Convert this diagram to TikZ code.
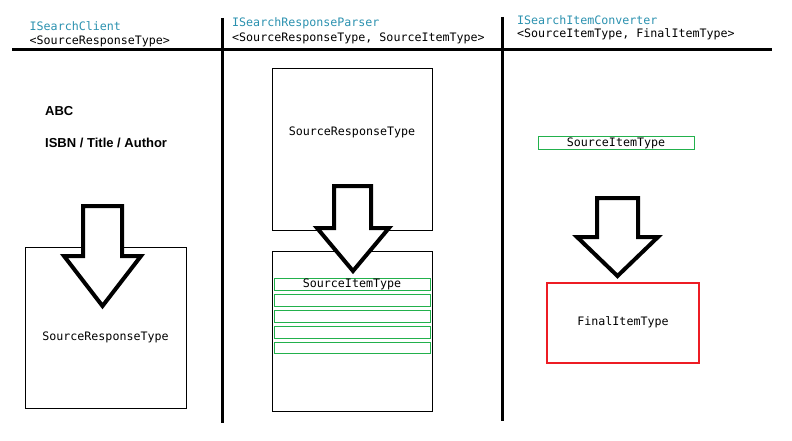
\documentclass[tikz,border=0pt]{standalone}
\usepackage{fontspec}
\setmonofont{DejaVu Sans Mono}
\newfontfamily\labelfont{Liberation Sans}
\definecolor{typeblue}{RGB}{43,145,175}
\definecolor{itemgreen}{RGB}{34,177,76}
\definecolor{finalred}{rgb}{0.93,0.11,0.14}
\tikzset{
  mono/.style={font=\ttfamily\fontsize{11.65}{13}\selectfont, inner sep=0pt},
  hdr/.style={mono, anchor=west},
  hdrtype/.style={hdr, text=typeblue},
  boxstyle/.style={draw=black, line width=1pt},
  itembox/.style={draw=itemgreen, line width=1pt},
  finalbox/.style={draw=finalred, line width=1.1pt},
  divider/.style={line width=3pt},
  bigarrow/.style={draw=black, fill=white, line width=4pt, line join=miter},
  bold/.style={font=\labelfont\bfseries\fontsize{13}{15}\selectfont, inner sep=0pt, anchor=west}
}
\begin{document}
\begin{tikzpicture}[x=1pt,y=-1pt]
\useasboundingbox (0,0) rectangle (792,441);
% dividers
\coordinate (hl) at (12,50);
\coordinate (hr) at (772,50);
\coordinate (v1t) at (222,18);
\coordinate (v1b) at (222,423);
\coordinate (v2t) at (502,17);
\coordinate (v2b) at (502,421);
\draw[divider] (hl) -- (hr);
\draw[divider] (v1t) -- (v1b);
\draw[divider] (v2t) -- (v2b);
% headers
\node[hdrtype] (h1a) at (29.5,26) {ISearchClient};
\node[hdr] (h1b) at (29.5,41) {<SourceResponseType>};
\node[hdrtype] (h2a) at (232,23) {ISearchResponseParser};
\node[hdr] (h2b) at (232,38) {<SourceResponseType, SourceItemType>};
\node[hdrtype] (h3a) at (517,20) {ISearchItemConverter};
\node[hdr] (h3b) at (517,34.5) {<SourceItemType, FinalItemType>};
% column 1
\node[bold] (abc) at (45,111) {ABC};
\node[bold] (isbn) at (45,143) {ISBN / Title / Author};
\draw[boxstyle] (25,247) rectangle (186,408);
\node[mono] (srt1) at (105.5,337) {SourceResponseType};
\draw[bigarrow] (83,206) -- (122,206) -- (122,256) -- (141,256) -- (102.5,306) -- (64,256) -- (83,256) -- cycle;
% column 2
\draw[boxstyle] (272,69) rectangle (432,230);
\node[mono] (srt2) at (352,132) {SourceResponseType};
\draw[boxstyle] (272,251) rectangle (432,411);
\draw[itembox] (274,278) rectangle (430,290);
\draw[itembox] (274,294) rectangle (430,306);
\draw[itembox] (274,310) rectangle (430,322);
\draw[itembox] (274,326) rectangle (430,338);
\draw[itembox] (274,342) rectangle (430,353);
\node[mono] (sit1) at (352,284) {SourceItemType};
\draw[bigarrow] (334,186) -- (371,186) -- (371,228) -- (389,228) -- (353,271) -- (317,228) -- (334,228) -- cycle;
% column 3
\draw[itembox] (538,137) rectangle (694,149);
\node[mono] (sit2) at (616,143) {SourceItemType};
\draw[bigarrow] (597,198) -- (638,198) -- (638,237) -- (658,237) -- (617.5,276) -- (577,237) -- (597,237) -- cycle;
\draw[finalbox] (547,283) rectangle (699,363);
\node[mono] (fit) at (623,322) {FinalItemType};
\end{tikzpicture}
\end{document}
